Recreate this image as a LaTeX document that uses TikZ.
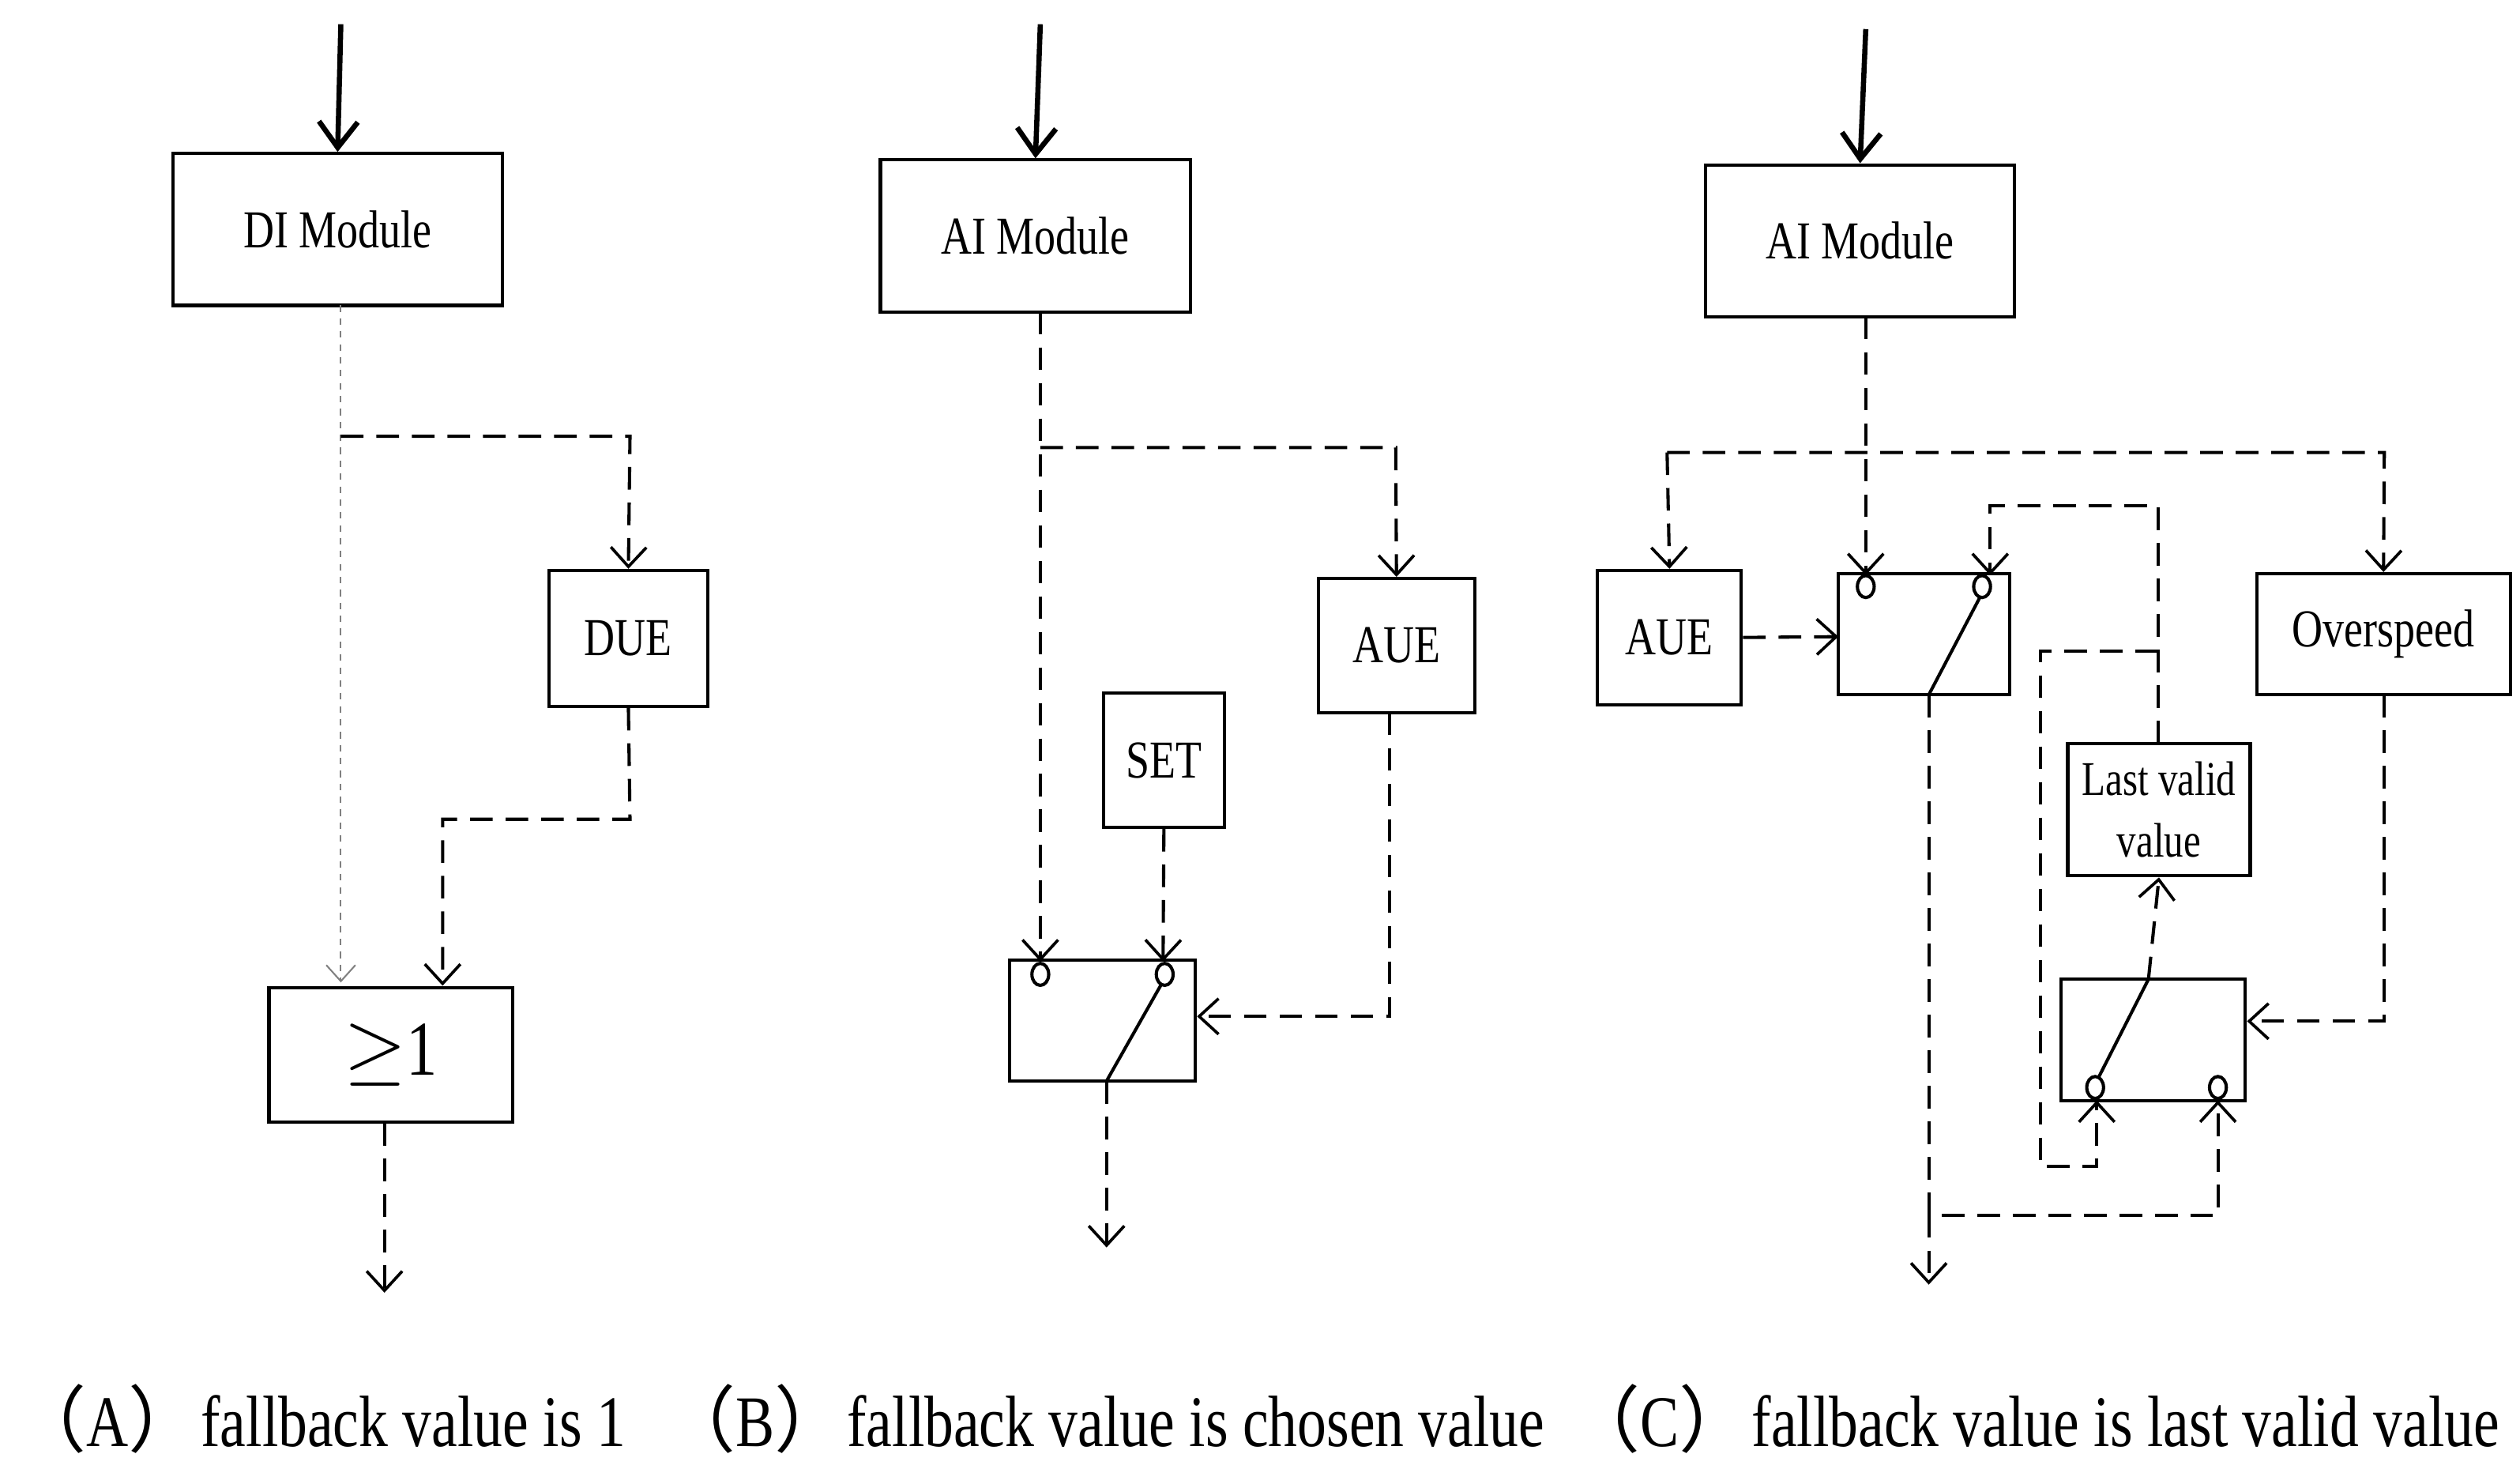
\documentclass[tikz,border=0pt]{standalone}
\usepackage{fontspec}
\setmainfont{Liberation Serif}[FakeStretch=0.8]
\newfontfamily\cjkf{Noto Sans CJK SC}
\newcommand{\lp}{{\cjkf （}}
\newcommand{\rp}{{\cjkf ）}}
\usetikzlibrary{arrows.meta}
\begin{document}
\begin{tikzpicture}[x=0.5pt,y=-0.5pt,
  box/.style={draw,line width=1pt,inner sep=0pt,font=\fontsize{16.5}{19}\selectfont,align=center},
  dl/.style={line width=1pt,dash pattern=on 7pt off 4pt,-{Straight Barb[length=6pt,width=11pt,line width=0.9pt]}},
  top/.style={line width=1.6pt,-{Straight Barb[length=8pt,width=12pt,line width=1.6pt]}},
  sw/.style={line width=1pt},
  captxt/.style={font=\fontsize{22.5}{26}\selectfont,anchor=west,inner sep=0pt}]
\useasboundingbox (0,0) rectangle (1560,909);
% ---------- A ----------
\coordinate (a0) at (211,15);
\node[box,minimum width=102pt,minimum height=47pt] (di) at (209,142) {DI Module};
\draw[top] (a0) -- (di.north);
\node[box,minimum width=49pt,minimum height=42pt] (due) at (389,395) {DUE};
\node[box,minimum width=75.5pt,minimum height=41.5pt,font=\fontsize{24}{26}\selectfont] (ge) at (242,653) {$\geq$1};
\draw[gray,line width=0.5pt,dash pattern=on 2pt off 2pt,-{Straight Barb[length=5pt,width=9pt]}] (211,189) -- (211,608);
\draw[dl] (211,270) -- (390,270) -- (due.north);
\draw[dl] (due.south) -- (390,507) -- (274,507) -- (274,610);
\coordinate (aout) at (238,800);
\draw[dl] (238,695) -- (aout);
\node[captxt] (ca) at (8,878) {\lp A\rp fallback value is 1};
% ---------- B ----------
\coordinate (b0) at (644,15);
\node[box,minimum width=96pt,minimum height=47pt] (aib) at (641,146) {AI Module};
\draw[top] (b0) -- (aib.north);
\node[box,minimum width=48.5pt,minimum height=41.5pt] (aueb) at (864.5,399.5) {AUE};
\node[box,minimum width=37.5pt,minimum height=41.5pt] (set) at (720.5,470.5) {SET};
\node[draw,sw,minimum width=57.5pt,minimum height=37.5pt,inner sep=0pt] (swb) at (682.5,631.5) {};
\draw[sw] (644,603) ellipse [x radius=2.6pt,y radius=3.4pt];
\draw[sw] (721,603) ellipse [x radius=2.6pt,y radius=3.4pt];
\draw[sw] (719,609) -- (685,669);
\draw[dl] (644,193) -- (644,595);
\draw[dl] (644,277) -- (864,277) -- (aueb.north);
\draw[dl] (set.south) -- (720,595);
\draw[dl] (860,441) -- (860,629) -- (741,629);
\coordinate (bout) at (685,772);
\draw[dl] (685,669) -- (bout);
\node[captxt] (cb) at (410,878) {\lp B\rp fallback value is chosen value};
% ---------- C ----------
\coordinate (c0) at (1155,18);
\node[box,minimum width=95.5pt,minimum height=47pt] (aic) at (1151.5,149) {AI Module};
\draw[top] (c0) -- (aic.north);
\node[box,minimum width=44.5pt,minimum height=41.5pt] (auec) at (1033.5,394.5) {AUE};
\node[box,minimum width=78.5pt,minimum height=37.5pt] (os) at (1475.5,392.5) {Overspeed};
\node[box,minimum width=56.5pt,minimum height=41pt,font=\fontsize{15}{19}\selectfont] (lvv) at (1336.5,501) {Last valid\\value};
\node[draw,sw,minimum width=53pt,minimum height=37.5pt,inner sep=0pt] (sw1) at (1191,392.5) {};
\node[draw,sw,minimum width=57pt,minimum height=37.5pt,inner sep=0pt] (sw2) at (1333,643.5) {};
\draw[sw] (1155,363) ellipse [x radius=2.6pt,y radius=3.4pt];
\draw[sw] (1227,363) ellipse [x radius=2.6pt,y radius=3.4pt];
\draw[sw] (1226,369) -- (1194,430);
\draw[sw] (1297,673) ellipse [x radius=2.6pt,y radius=3.4pt];
\draw[sw] (1373,673) ellipse [x radius=2.6pt,y radius=3.4pt];
\draw[sw] (1299,667) -- (1330,606);
\draw[dl] (1155,196) -- (1155,356);
\draw[dl] (1032,280) -- (1476,280) -- (os.north);
\draw[dl] (1032,280) -- (auec.north);
\draw[dl] (auec.east) -- (1138,394);
\draw[dl] (1330,606) -- (lvv.south);
\draw[dl] (1336,460) -- (1336,313) -- (1232,313) -- (1232,356);
\draw[dl] (1336,403) -- (1263,403) -- (1263,722) -- (1298,722) -- (1298,681);
\draw[dl] (1476,430) -- (1476,632) -- (1391,632);
\draw[dl] (1194,430) -- (1194,752) -- (1373,752) -- (1373,681);
\coordinate (cout) at (1194,795);
\draw[dl] (1194,752) -- (cout);
\node[captxt] (cc) at (970,878) {\lp C\rp fallback value is last valid value};
\end{tikzpicture}
\end{document}
